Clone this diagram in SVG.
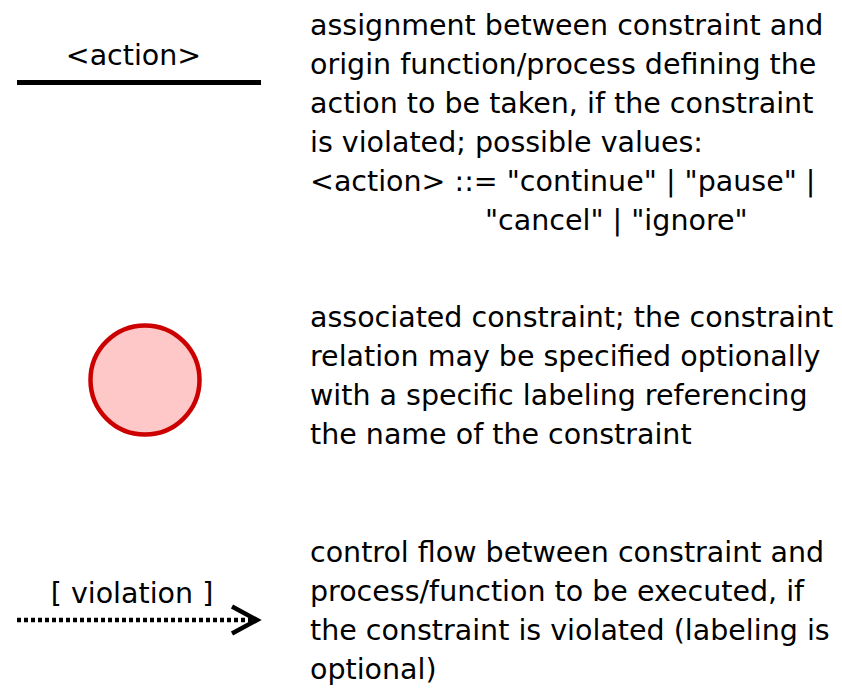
<svg xmlns="http://www.w3.org/2000/svg" width="842" height="692" viewBox="0 0 842 692">
  <style>
    text { font-family: "DejaVu Sans", "Liberation Sans", sans-serif; font-size: 28.5px; fill: #000; }
    .label { text-anchor: middle; }
    .assign { stroke: #000; stroke-width: 5; fill: none; }
    .flow { stroke: #000; stroke-width: 4.5; stroke-dasharray: 4 3; fill: none; }
    .head { stroke: #000; stroke-width: 4.5; fill: none; stroke-linejoin: miter; }
    .constraint { fill: #ffc8c8; stroke: #cc0000; stroke-width: 4.5; }
  </style>
  <rect width="842" height="692" fill="#fff"/>

  <!-- action assignment line -->
  <g id="action-assignment">
    <path class="assign" d="M17 82.5 H261"/>
    <text class="label" x="133.5" y="65">&lt;action&gt;</text>
    <text x="310" y="35">assignment between constraint and</text>
    <text x="310" y="74">origin function/process defining the</text>
    <text x="310" y="113">action to be taken, if the constraint</text>
    <text x="310" y="152">is violated; possible values:</text>
    <text x="310" y="191">&lt;action&gt; ::= "continue" | "pause" |</text>
    <text x="485" y="230">"cancel" | "ignore"</text>
  </g>

  <!-- associated constraint -->
  <g id="constraint">
    <circle class="constraint" cx="145" cy="380" r="54.5"/>
    <text x="310" y="327">associated constraint; the constraint</text>
    <text x="310" y="366">relation may be specified optionally</text>
    <text x="310" y="405">with a specific labeling referencing</text>
    <text x="310" y="444">the name of the constraint</text>
  </g>

  <!-- violation control flow -->
  <g id="connectors">
    <path class="flow" d="M17 620 H252"/>
    <path class="head" d="M232 606.5 L257 620 L232 633.5"/>
  </g>
  <g id="violation-flow">
    <text class="label" x="132" y="603">[ violation ]</text>
    <text x="310" y="562">control flow between constraint and</text>
    <text x="310" y="601">process/function to be executed, if</text>
    <text x="310" y="640">the constraint is violated (labeling is</text>
    <text x="310" y="679">optional)</text>
  </g>
</svg>
